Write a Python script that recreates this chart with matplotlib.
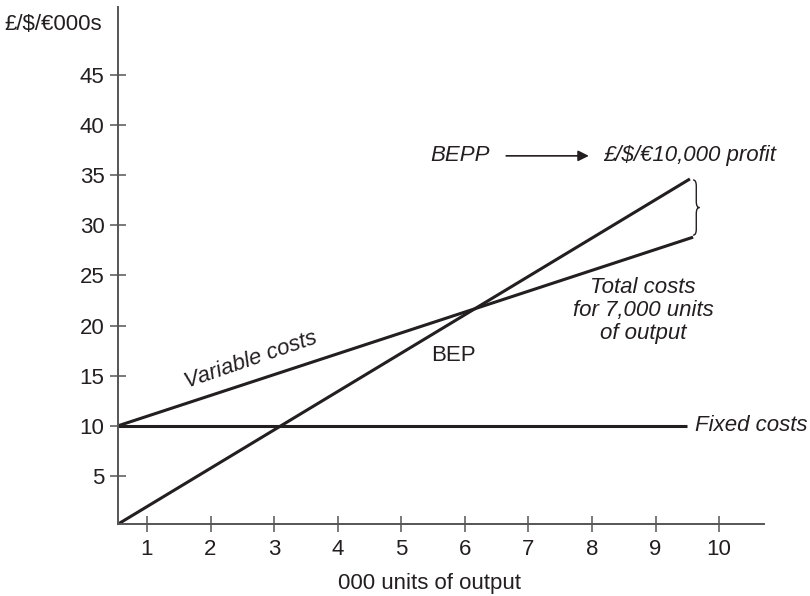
import matplotlib
matplotlib.use("Agg")
import matplotlib.pyplot as plt
from matplotlib.path import Path
from matplotlib.patches import PathPatch

plt.rcParams["font.family"] = ["Liberation Sans", "DejaVu Sans"]

# values (000 units, £/$/€000s)
revenue_x = [0.54, 9.54]
revenue_y = [0.2, 34.6]
total_cost_x = [0.54, 9.59]
total_cost_y = [10.0, 28.8]
fixed_cost_x = [0.54, 9.49]
fixed_cost_y = [10.0, 10.0]

x_ticks = [1, 2, 3, 4, 5, 6, 7, 8, 9, 10]
y_ticks = [5, 10, 15, 20, 25, 30, 35, 40, 45]

ink = "#231f20"
axis_col = "#555555"
fs = 16

fig = plt.figure(figsize=(8.1, 5.96), dpi=100)
ax = fig.add_axes([0.1453, 0.1203, 0.7983, 0.8675])
ax.set_xlim(0.54, 10.71)
ax.set_ylim(0.2, 51.7)

ax.plot(revenue_x, revenue_y, color=ink, lw=2.2, solid_capstyle="butt")
ax.plot(total_cost_x, total_cost_y, color=ink, lw=2.2, solid_capstyle="butt")
ax.plot(fixed_cost_x, fixed_cost_y, color=ink, lw=2.2, solid_capstyle="butt")

# axes look
for side in ["top", "right"]:
    ax.spines[side].set_visible(False)
for side in ["left", "bottom"]:
    ax.spines[side].set_color(axis_col)
    ax.spines[side].set_linewidth(1.4)
ax.set_xticks(x_ticks)
ax.set_yticks(y_ticks)
ax.tick_params(direction="inout", length=11, width=1.1, color=axis_col,
               labelsize=fs, labelcolor=ink)
ax.tick_params(axis="y", pad=4)
ax.tick_params(axis="x", pad=5)

fig.text(102 / 810, 1 - 25 / 596, "£/$/€000s", ha="right", va="center",
         fontsize=fs, color=ink)
fig.text(430 / 810, 1 - 583 / 596, "000 units of output", ha="center",
         va="center", fontsize=fs, color=ink)

# labels on the chart
ax.text(2.64, 16.5, "Variable costs", rotation=19, ha="center", va="center",
        fontsize=fs, style="italic", color=ink, rotation_mode="anchor")
ax.text(5.82, 17.0, "BEP", ha="center", va="center", fontsize=fs, color=ink)
ax.text(8.80, 21.5, "Total costs\nfor 7,000 units\nof output", ha="center",
        va="center", fontsize=fs, style="italic", color=ink, linespacing=1.1)
ax.text(9.62, 10.0, "Fixed costs", ha="left", va="center", fontsize=fs,
        style="italic", color=ink, clip_on=False)
ax.text(6.40, 36.9, "BEPP", ha="right", va="center", fontsize=fs,
        style="italic", color=ink)
ax.text(8.18, 36.9, "£/$/€10,000 profit", ha="left", va="center",
        fontsize=fs, style="italic", color=ink, clip_on=False)
ax.annotate("", xy=(7.95, 36.9), xytext=(6.65, 36.9),
            arrowprops=dict(arrowstyle="-|>", color=ink, lw=1.2,
                            mutation_scale=16, shrinkA=0, shrinkB=0))

# curly brace between the two line ends (profit gap)
bx = revenue_x[1] + 0.05
top = revenue_y[1] - 0.1
bot = total_cost_y[1] + 0.2
mid = (top + bot) / 2
w = 0.05
verts = [
    (bx, top),
    (bx + w, top), (bx + w, top - 0.6),
    (bx + w, mid + 0.6),
    (bx + w, mid), (bx + 2 * w, mid),
    (bx + w, mid), (bx + w, mid - 0.6),
    (bx + w, bot + 0.6),
    (bx + w, bot), (bx, bot),
]
codes = [Path.MOVETO,
         Path.CURVE3, Path.CURVE3,
         Path.LINETO,
         Path.CURVE3, Path.CURVE3,
         Path.CURVE3, Path.CURVE3,
         Path.LINETO,
         Path.CURVE3, Path.CURVE3]
ax.add_patch(PathPatch(Path(verts, codes), fill=False, edgecolor=ink,
                       lw=1.0, clip_on=False))

fig.savefig("out.png", dpi=100)
